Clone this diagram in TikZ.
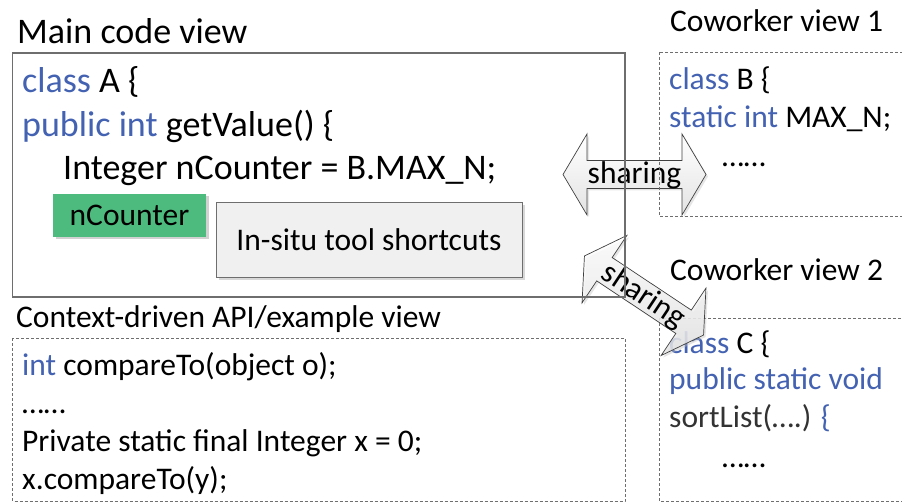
\documentclass[tikz,border=0pt]{standalone}
\usepackage{fontspec}
\setmainfont{Carlito}
\usetikzlibrary{shadows}
\definecolor{kw}{RGB}{68,98,178}
\definecolor{ngreen}{RGB}{77,187,126}
\definecolor{boxline}{RGB}{110,110,110}
\definecolor{shortfill}{RGB}{240,240,240}
\tikzset{
  big/.style={font=\fontsize{36}{43}\selectfont},
  small/.style={font=\fontsize{31.5}{38}\selectfont},
  txt/.style={inner sep=0pt, anchor=base west},
  solidbox/.style={draw=boxline, line width=1.2pt},
  dashbox/.style={draw=boxline, line width=0.9pt, dash pattern=on 3pt off 2pt},
  sharearrow/.pic={
    \path[draw=black!75, line width=0.7pt, top color=white, bottom color=gray!22,
      drop shadow={shadow xshift=2pt, shadow yshift=-2pt, fill=gray!50, opacity=0.4}]
      (-71.5,0) -- (-47.5,-40.5) -- (-47.5,-14) -- (47.5,-14) -- (47.5,-40.5)
      -- (71.5,0) -- (47.5,40.5) -- (47.5,14) -- (-47.5,14) -- (-47.5,40.5) -- cycle;
    \node[small, inner sep=0pt, text opacity=1] (-lbl) at (0,1) {sharing};
  }
}
\begin{document}
\begin{tikzpicture}[x=1pt, y=-1pt]
\useasboundingbox (0,0) rectangle (902,502);

% titles
\node[big, txt] (tmain) at (17,44) {Main code view};
\node[small, txt] (tcw1) at (670,32) {Coworker view 1};
\node[small, txt] (tcw2) at (670,281) {Coworker view 2};
\node[small, txt] (tctx) at (16,328) {Context-driven API/example view};

% coworker view 2 (lies under the lower sharing arrow)
\draw[dashbox] (659,318) rectangle (912,501);
\node[small, txt] (c1) at (669,354) {\textcolor{kw}{class} C \{};

% sharing arrows (under the other box outlines)
\pic (shA) at (634.5,174.5) {sharearrow};
\pic[rotate=-33.6, transform shape, fill opacity=0.82] (shB) at (644,295.5) {sharearrow};

% boxes
\draw[solidbox] (12.5,53) rectangle (625,297);
\draw[dashbox] (659,52) rectangle (912,216);
\draw[dashbox] (12.5,338) rectangle (625,501);

% main code
\node[big, txt] (m1) at (22,93) {\textcolor{kw}{class} A \{};
\node[big, txt] (m2) at (22,137) {\textcolor{kw}{public int} getValue() \{};
\node[big, txt] (m3) at (63,180) {Integer nCounter = B.MAX\_N;};

\node[small, draw=none, fill=ngreen, minimum width=153pt, minimum height=43pt,
  inner sep=0pt, drop shadow={shadow xshift=2.5pt, shadow yshift=-2.5pt, fill=gray!60, opacity=0.6}]
  (ncnt) at (129.5,215.5) {nCounter};
\node[small, draw=boxline, line width=0.9pt, fill=shortfill, minimum width=306pt, minimum height=75pt,
  inner sep=0pt, drop shadow={shadow xshift=3pt, shadow yshift=-3pt, fill=gray!60, opacity=0.5}]
  (insitu) at (369,239.5) {In-situ tool shortcuts};

% coworker view 1
\node[small, txt] (b1) at (669,90) {\textcolor{kw}{class} B \{};
\node[small, txt] (b2) at (669,128) {\textcolor{kw}{static int} MAX\_N;};
\node[small, txt] (b3) at (722,167) {……};

% coworker view 2, remaining lines
\node[small, txt] (c2) at (669,389) {\textcolor{kw}{public static void}};
\node[small, txt] (c3) at (669,427) {\textcolor{black!80}{sortList(….)} \textcolor{kw}{\{}};
\node[small, txt] (c4) at (722,467) {……};

% context view
\node[small, txt] (x1) at (22,375) {\textcolor{kw}{int} compareTo(object o);};
\node[small, txt] (x2) at (22,413) {……};
\node[small, txt] (x3) at (22,451) {Private static final Integer x = 0;};
\node[small, txt] (x4) at (22,489) {x.compareTo(y);};
\end{tikzpicture}
\end{document}
